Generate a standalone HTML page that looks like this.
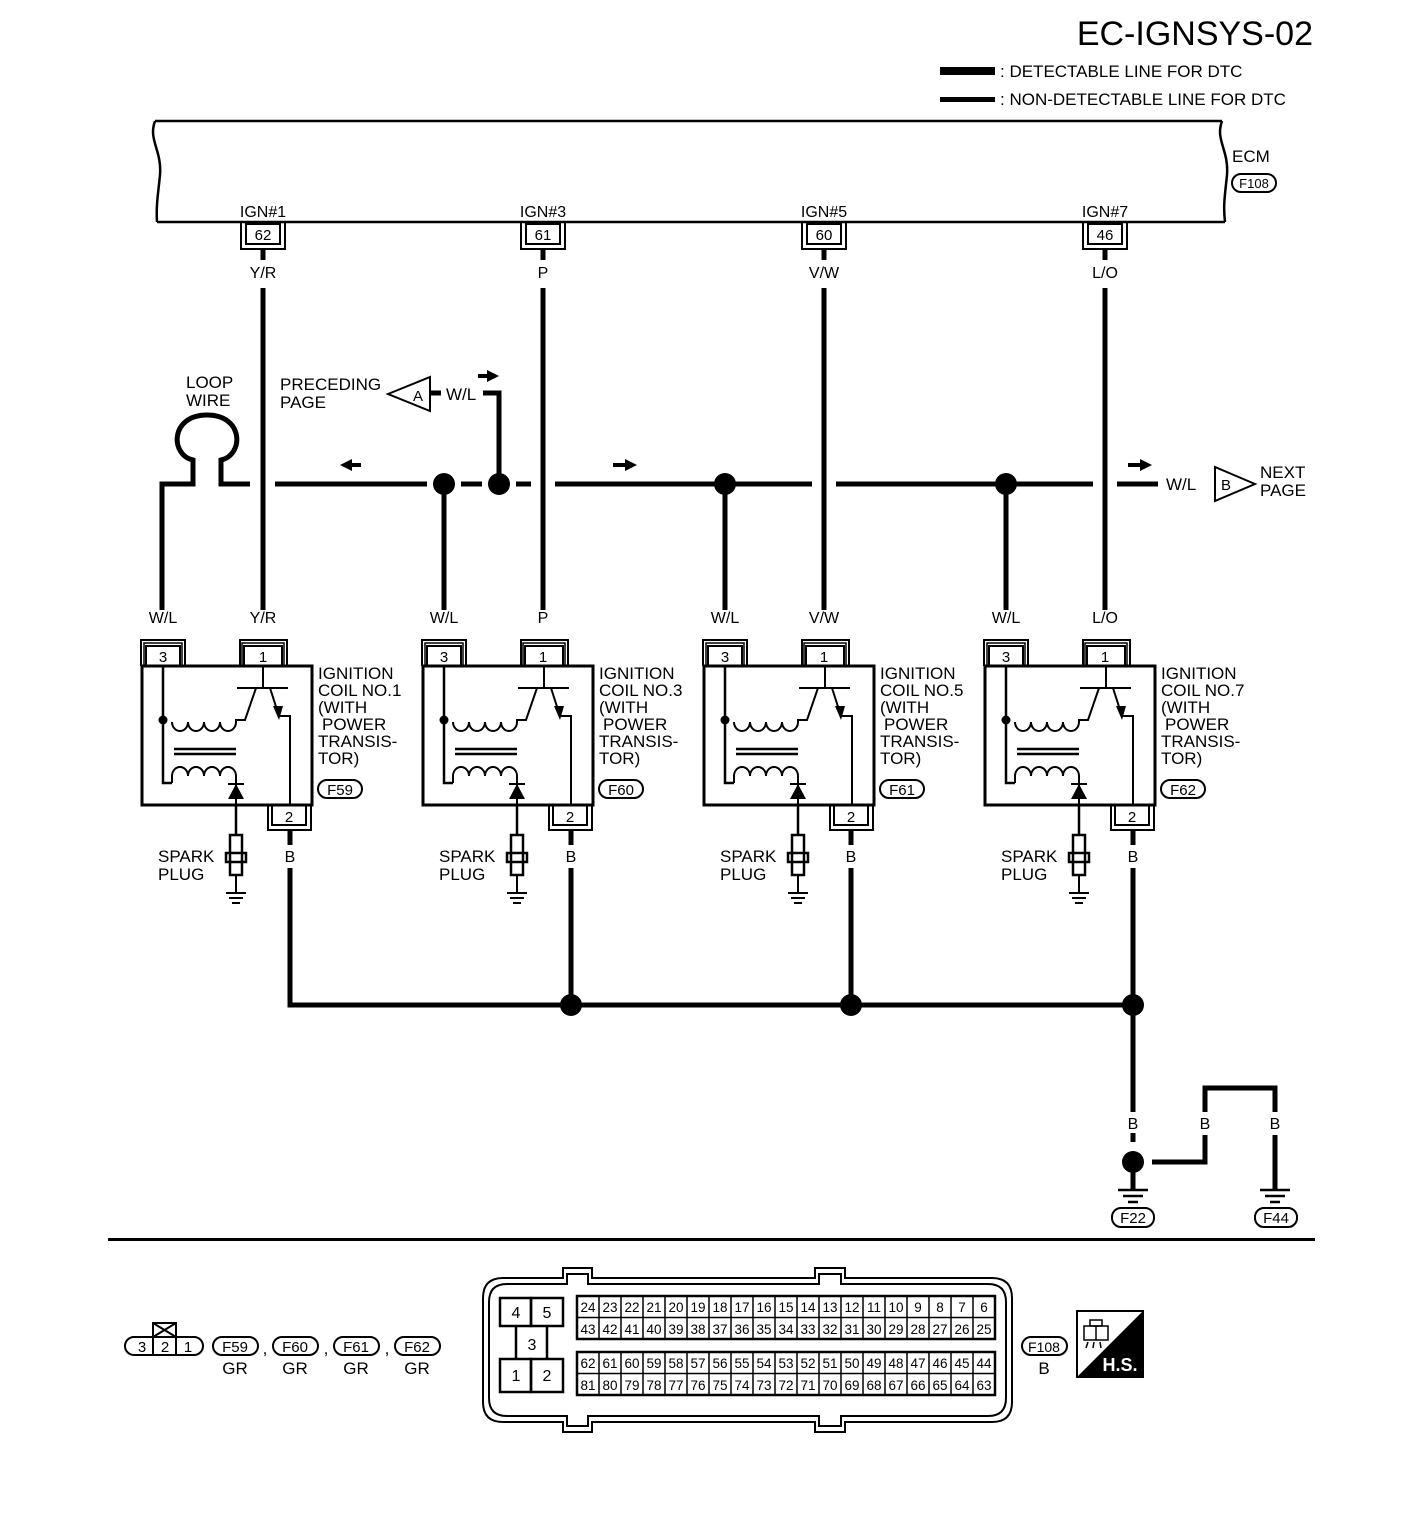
<!DOCTYPE html>
<html><head><style>
html,body{margin:0;padding:0;background:#fff;}
svg{display:block;}
text{font-family:"Liberation Sans",Arial,sans-serif;fill:#000;}
</style></head><body>
<svg width="1408" height="1536" viewBox="0 0 1408 1536" xmlns="http://www.w3.org/2000/svg">
<defs>
<g id="coil" fill="none" stroke="#000">
  <rect x="146" y="646" width="34" height="20" stroke-width="2"/>
  <path d="M141,666 V640 H185 V666" stroke-width="2"/>
  <path d="M144,666 V643 H182 V666" stroke-width="1.5"/>
  <rect x="244" y="646" width="38" height="20" stroke-width="2"/>
  <path d="M240,666 V640 H287 V666" stroke-width="2"/>
  <path d="M242,666 V643 H284 V666" stroke-width="1.5"/>
  <rect x="142" y="666" width="170" height="139" stroke-width="3"/>
  <rect x="272" y="805" width="34" height="20" stroke-width="2"/>
  <path d="M268,805 V830 H311 V805" stroke-width="2"/>
  <path d="M163,666 V783 H172" stroke-width="2.5"/>
  <circle cx="163" cy="720" r="4.5" fill="#000" stroke="none"/>
  <path d="M172,722 a8,9 0 1 0 16,0 a8,9 0 1 0 16,0 a8,9 0 1 0 16,0 a8,9 0 1 0 16,0 V720 H245 L256,688" stroke-width="2"/>
  <path d="M174,749 H236 M174,754 H236" stroke-width="2.5"/>
  <path d="M172,783 V776 a8,9 0 1 1 16,0 a8,9 0 1 1 16,0 a8,9 0 1 1 16,0 a8,9 0 1 1 16,0 V805" stroke-width="2"/>
  <path d="M237,688 H288 M263,666 V688 M270,688 L279,716 H290 V805" stroke-width="2"/>
  <polygon points="273,706 283,706 279,720" fill="#000" stroke="none"/>
  <polygon points="228,799 244,799 236,784" fill="#000" stroke="none"/>
  <path d="M228,784 H244" stroke-width="2"/>
  <path d="M236,805 V835" stroke-width="2.5"/>
  <rect x="230" y="835" width="12" height="40" stroke-width="2.5"/>
  <rect x="226" y="853" width="20" height="9" stroke-width="2.5"/>
  <path d="M236,875 V893 M226,893 H246 M229,898 H243 M232,903 H240" stroke-width="2"/>
</g>
</defs>

<text x="1313" y="45" font-size="34" text-anchor="end">EC-IGNSYS-02</text>
<rect x="940" y="67" width="55" height="8" fill="#000"/>
<rect x="940" y="97" width="55" height="5" fill="#000"/>
<text x="1000" y="77" font-size="17">: DETECTABLE LINE FOR DTC</text>
<text x="1000" y="105" font-size="17">: NON-DETECTABLE LINE FOR DTC</text>

<g fill="none" stroke="#000" stroke-width="2.5">
<path d="M155,121 H1222 M157,222 H1225"/>
<path d="M155,121 C148,140 162,150 160,175 C158,195 156,205 157,222"/>
<path d="M1222,121 C1215,140 1229,150 1227,175 C1225,195 1223,205 1225,222"/>
</g>
<text x="1232" y="162" font-size="17">ECM</text>
<rect x="1232" y="174" width="44" height="18" rx="9" fill="none" stroke="#000" stroke-width="2"/>
<text x="1254" y="188" font-size="13" text-anchor="middle">F108</text>

<g font-size="16" text-anchor="middle">
<text x="263" y="217">IGN#1</text><text x="543" y="217">IGN#3</text><text x="824" y="217">IGN#5</text><text x="1105" y="217">IGN#7</text>
<text x="263" y="240" font-size="15">62</text><text x="543" y="240" font-size="15">61</text><text x="824" y="240" font-size="15">60</text><text x="1105" y="240" font-size="15">46</text>
<text x="263" y="278">Y/R</text><text x="543" y="278">P</text><text x="824" y="278">V/W</text><text x="1105" y="278">L/O</text>
</g>
<g fill="none" stroke="#000" stroke-width="2">
<rect x="246" y="224" width="34" height="20"/><path d="M241,222 V249 H285 V222"/>
<rect x="526" y="224" width="34" height="20"/><path d="M521,222 V249 H565 V222"/>
<rect x="807" y="224" width="34" height="20"/><path d="M802,222 V249 H846 V222"/>
<rect x="1088" y="224" width="34" height="20"/><path d="M1083,222 V249 H1127 V222"/>
</g>

<g fill="none" stroke="#000" stroke-width="5">
<path d="M263,249 V260 M263,288 V610"/>
<path d="M543,249 V260 M543,288 V610"/>
<path d="M824,249 V260 M824,288 V610"/>
<path d="M1105,249 V260 M1105,288 V610"/>
<path d="M162,610 V484 H193 V460 C170,455 170,415 207,415 C244,415 244,455 221,460 V484 H250"/>
<path d="M275,484 H427 M461,484 H482 M516,484 H531 M555,484 H812 M836,484 H1093 M1117,484 H1158"/>
<path d="M444,484 V610 M725,484 V610 M1006,484 V610"/>
<path d="M499,484 V393 H483"/>
<path d="M430,393 H441"/>
<path d="M290,830 V845 M290,868 V1005 H1133"/>
<path d="M571,830 V845 M571,868 V1005"/>
<path d="M851,830 V845 M851,868 V1005"/>
<path d="M1133,830 V845 M1133,868 V1112 M1133,1133 V1142 M1133,1170 V1190"/>
<path d="M1152,1162 H1205 V1135 M1205,1112 V1088 H1275 V1112 M1275,1135 V1190"/>
</g>
<g fill="#000">
<circle cx="444" cy="484" r="11"/><circle cx="499" cy="484" r="11"/><circle cx="725" cy="484" r="11"/><circle cx="1006" cy="484" r="11"/>
<circle cx="571" cy="1005" r="11"/><circle cx="851" cy="1005" r="11"/><circle cx="1133" cy="1005" r="11"/><circle cx="1133" cy="1162" r="11"/>
<polygon points="340,465 352,459 352,471"/><rect x="351" y="463" width="10" height="4"/>
<polygon points="637,465 625,459 625,471"/><rect x="613" y="463" width="13" height="4"/>
<polygon points="1152,465 1140,459 1140,471"/><rect x="1128" y="463" width="13" height="4"/>
<polygon points="499,376 487,370 487,382"/><rect x="478" y="374" width="10" height="4"/>
</g>
<g stroke="#000" stroke-width="2.5">
<path d="M1118,1190 H1148 M1123,1196 H1143 M1128,1202 H1138"/>
<path d="M1260,1190 H1290 M1265,1196 H1285 M1270,1202 H1280"/>
</g>
<g font-size="17">
<text x="186" y="388">LOOP</text><text x="186" y="406">WIRE</text>
<text x="280" y="390">PRECEDING</text><text x="280" y="408">PAGE</text>
<text x="446" y="400">W/L</text>
<text x="1166" y="490">W/L</text>
<text x="1260" y="478">NEXT</text><text x="1260" y="496">PAGE</text>
</g>
<polygon points="388,394 430,377 430,411" fill="none" stroke="#000" stroke-width="2"/>
<text x="418" y="401" font-size="15" text-anchor="middle">A</text>
<polygon points="1255,484 1215,467 1215,501" fill="none" stroke="#000" stroke-width="2"/>
<text x="1226" y="490" font-size="15" text-anchor="middle">B</text>

<use href="#coil"/>
<use href="#coil" transform="translate(281,0)"/>
<use href="#coil" transform="translate(562,0)"/>
<use href="#coil" transform="translate(843,0)"/>
<g font-size="16" text-anchor="middle">
<text x="163" y="623">W/L</text><text x="263" y="623">Y/R</text>
<text x="444" y="623">W/L</text><text x="543" y="623">P</text>
<text x="725" y="623">W/L</text><text x="824" y="623">V/W</text>
<text x="1006" y="623">W/L</text><text x="1105" y="623">L/O</text>
<text x="290" y="862">B</text><text x="571" y="862">B</text><text x="851" y="862">B</text><text x="1133" y="862">B</text>
<text x="1133" y="1129">B</text><text x="1205" y="1129">B</text><text x="1275" y="1129">B</text>
</g>
<g font-size="15" text-anchor="middle">
<text x="163" y="662">3</text><text x="263" y="662">1</text><text x="289" y="822">2</text>
<text x="444" y="662">3</text><text x="543" y="662">1</text><text x="570" y="822">2</text>
<text x="725" y="662">3</text><text x="824" y="662">1</text><text x="851" y="822">2</text>
<text x="1006" y="662">3</text><text x="1105" y="662">1</text><text x="1132" y="822">2</text>
</g>
<g font-size="17">
<text x="318" y="679">IGNITION</text><text x="318" y="696">COIL NO.1</text><text x="318" y="713">(WITH</text><text x="322" y="730">POWER</text><text x="318" y="747">TRANSIS-</text><text x="318" y="764">TOR)</text>
<text x="599" y="679">IGNITION</text><text x="599" y="696">COIL NO.3</text><text x="599" y="713">(WITH</text><text x="603" y="730">POWER</text><text x="599" y="747">TRANSIS-</text><text x="599" y="764">TOR)</text>
<text x="880" y="679">IGNITION</text><text x="880" y="696">COIL NO.5</text><text x="880" y="713">(WITH</text><text x="884" y="730">POWER</text><text x="880" y="747">TRANSIS-</text><text x="880" y="764">TOR)</text>
<text x="1161" y="679">IGNITION</text><text x="1161" y="696">COIL NO.7</text><text x="1161" y="713">(WITH</text><text x="1165" y="730">POWER</text><text x="1161" y="747">TRANSIS-</text><text x="1161" y="764">TOR)</text>
<text x="158" y="862">SPARK</text><text x="158" y="880">PLUG</text>
<text x="439" y="862">SPARK</text><text x="439" y="880">PLUG</text>
<text x="720" y="862">SPARK</text><text x="720" y="880">PLUG</text>
<text x="1001" y="862">SPARK</text><text x="1001" y="880">PLUG</text>
</g>
<g fill="none" stroke="#000" stroke-width="2">
<rect x="318" y="780" width="44" height="18" rx="9"/><rect x="599" y="780" width="44" height="18" rx="9"/>
<rect x="880" y="780" width="44" height="18" rx="9"/><rect x="1161" y="780" width="44" height="18" rx="9"/>
<rect x="1112" y="1208" width="42" height="19" rx="9"/><rect x="1255" y="1208" width="42" height="19" rx="9"/>
</g>
<g font-size="15" text-anchor="middle">
<text x="340" y="795">F59</text><text x="621" y="795">F60</text><text x="902" y="795">F61</text><text x="1183" y="795">F62</text>
<text x="1133" y="1223">F22</text><text x="1276" y="1223">F44</text>
</g>

<rect x="108" y="1238" width="1207" height="3" fill="#000"/>

<g fill="none" stroke="#000" stroke-width="2">
<rect x="125" y="1337" width="78" height="18" rx="9"/>
<path d="M153,1337 V1355 M176,1337 V1355 M153,1337 V1323 H176 V1337 M153,1323 L176,1337 M176,1323 L153,1337"/>
<rect x="213" y="1337" width="45" height="18" rx="9"/><rect x="273" y="1337" width="45" height="18" rx="9"/>
<rect x="334" y="1337" width="45" height="18" rx="9"/><rect x="395" y="1337" width="45" height="18" rx="9"/>
<rect x="1022" y="1337" width="45" height="18" rx="9"/>
</g>
<g font-size="15" text-anchor="middle">
<text x="142" y="1352">3</text><text x="165" y="1352">2</text><text x="188" y="1352">1</text>
<text x="235" y="1352">F59</text><text x="295" y="1352">F60</text><text x="356" y="1352">F61</text><text x="417" y="1352">F62</text>
<text x="1044" y="1352" font-size="14">F108</text>
</g>
<g font-size="17" text-anchor="middle">
<text x="235" y="1374">GR</text><text x="295" y="1374">GR</text><text x="356" y="1374">GR</text><text x="417" y="1374">GR</text>
<text x="1044" y="1374">B</text>
<text x="265" y="1354">,</text><text x="326" y="1354">,</text><text x="387" y="1354">,</text>
</g>
<rect x="1077" y="1311" width="66" height="66" fill="#fff" stroke="#000" stroke-width="2"/>
<polygon points="1143,1311 1143,1377 1077,1377" fill="#000"/>
<g fill="none" stroke="#000" stroke-width="1.5">
<rect x="1084" y="1326" width="24" height="14"/><rect x="1090" y="1320" width="12" height="6"/>
<path d="M1096,1326 V1340 M1088,1342 l-2,6 M1094,1342 l-1,6 M1100,1342 l1,6"/>
</g>
<text x="1120" y="1371" font-size="18" font-weight="bold" text-anchor="middle" style="fill:#fff">H.S.</text>

<g fill="none" stroke="#000" stroke-width="2">
<path d="M483,1298 Q483,1278 503,1278 H563 V1268 H592 V1278 H815 V1268 H845 V1278 H992 Q1012,1278 1012,1298 V1402 Q1012,1422 992,1422 H845 V1432 H815 V1422 H592 V1432 H563 V1422 H503 Q483,1422 483,1402 Z"/>
<path d="M489,1302 Q489,1284 507,1284 H567 V1274 H588 V1284 H819 V1274 H841 V1284 H988 Q1006,1284 1006,1302 V1398 Q1006,1416 988,1416 H841 V1426 H819 V1416 H588 V1426 H567 V1416 H507 Q489,1416 489,1398 Z"/>
<rect x="500" y="1298" width="31" height="28" stroke-width="2.5"/><rect x="531" y="1298" width="32" height="28" stroke-width="2.5"/>
<path d="M516,1326 V1359 M547,1326 V1359" stroke-width="2.5"/>
<rect x="500" y="1359" width="31" height="33" stroke-width="2.5"/><rect x="531" y="1359" width="32" height="33" stroke-width="2.5"/>
<rect x="577" y="1296" width="418" height="43" stroke-width="2.5"/>
<rect x="577" y="1352" width="418" height="43" stroke-width="2.5"/>
<path d="M577,1317.5 H995 M577,1373.5 H995" stroke-width="1.5"/>
<path d="M599,1296 V1339 M621,1296 V1339 M643,1296 V1339 M665,1296 V1339 M687,1296 V1339 M709,1296 V1339 M731,1296 V1339 M753,1296 V1339 M775,1296 V1339 M797,1296 V1339 M819,1296 V1339 M841,1296 V1339 M863,1296 V1339 M885,1296 V1339 M907,1296 V1339 M929,1296 V1339 M951,1296 V1339 M973,1296 V1339" stroke-width="1.5"/>
<path d="M599,1352 V1395 M621,1352 V1395 M643,1352 V1395 M665,1352 V1395 M687,1352 V1395 M709,1352 V1395 M731,1352 V1395 M753,1352 V1395 M775,1352 V1395 M797,1352 V1395 M819,1352 V1395 M841,1352 V1395 M863,1352 V1395 M885,1352 V1395 M907,1352 V1395 M929,1352 V1395 M951,1352 V1395 M973,1352 V1395" stroke-width="1.5"/>
</g>
<g font-size="16" text-anchor="middle">
<text x="516" y="1318">4</text><text x="547" y="1318">5</text><text x="532" y="1350">3</text><text x="516" y="1381">1</text><text x="547" y="1381">2</text>
</g>
<g font-size="13.5" text-anchor="middle">
<text x="588" y="1312">24</text><text x="610" y="1312">23</text><text x="632" y="1312">22</text><text x="654" y="1312">21</text><text x="676" y="1312">20</text><text x="698" y="1312">19</text><text x="720" y="1312">18</text><text x="742" y="1312">17</text><text x="764" y="1312">16</text><text x="786" y="1312">15</text><text x="808" y="1312">14</text><text x="830" y="1312">13</text><text x="852" y="1312">12</text><text x="874" y="1312">11</text><text x="896" y="1312">10</text><text x="918" y="1312">9</text><text x="940" y="1312">8</text><text x="962" y="1312">7</text><text x="984" y="1312">6</text>
<text x="588" y="1334">43</text><text x="610" y="1334">42</text><text x="632" y="1334">41</text><text x="654" y="1334">40</text><text x="676" y="1334">39</text><text x="698" y="1334">38</text><text x="720" y="1334">37</text><text x="742" y="1334">36</text><text x="764" y="1334">35</text><text x="786" y="1334">34</text><text x="808" y="1334">33</text><text x="830" y="1334">32</text><text x="852" y="1334">31</text><text x="874" y="1334">30</text><text x="896" y="1334">29</text><text x="918" y="1334">28</text><text x="940" y="1334">27</text><text x="962" y="1334">26</text><text x="984" y="1334">25</text>
<text x="588" y="1368">62</text><text x="610" y="1368">61</text><text x="632" y="1368">60</text><text x="654" y="1368">59</text><text x="676" y="1368">58</text><text x="698" y="1368">57</text><text x="720" y="1368">56</text><text x="742" y="1368">55</text><text x="764" y="1368">54</text><text x="786" y="1368">53</text><text x="808" y="1368">52</text><text x="830" y="1368">51</text><text x="852" y="1368">50</text><text x="874" y="1368">49</text><text x="896" y="1368">48</text><text x="918" y="1368">47</text><text x="940" y="1368">46</text><text x="962" y="1368">45</text><text x="984" y="1368">44</text>
<text x="588" y="1390">81</text><text x="610" y="1390">80</text><text x="632" y="1390">79</text><text x="654" y="1390">78</text><text x="676" y="1390">77</text><text x="698" y="1390">76</text><text x="720" y="1390">75</text><text x="742" y="1390">74</text><text x="764" y="1390">73</text><text x="786" y="1390">72</text><text x="808" y="1390">71</text><text x="830" y="1390">70</text><text x="852" y="1390">69</text><text x="874" y="1390">68</text><text x="896" y="1390">67</text><text x="918" y="1390">66</text><text x="940" y="1390">65</text><text x="962" y="1390">64</text><text x="984" y="1390">63</text>
</g>
</svg>
</body></html>
